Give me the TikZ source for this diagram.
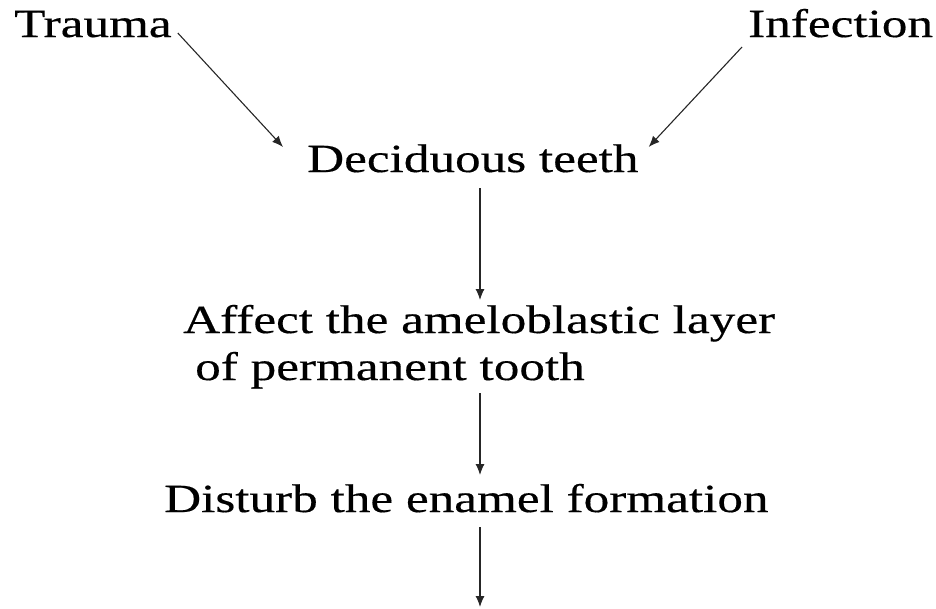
\documentclass[tikz,border=0pt]{standalone}
\usepackage{fontspec}
\setmainfont[FakeStretch=1.28,FakeBold=0.4]{Liberation Serif}
\usetikzlibrary{arrows.meta}
\begin{document}
\begin{tikzpicture}[x=1pt,y=1pt,
  lbl/.style={inner sep=0pt,anchor=base west,font=\fontsize{40}{47}\selectfont},
  arr/.style={-{Latex[length=11pt,width=9pt]},line width=1.1pt,black!85}]
\useasboundingbox (0,0) rectangle (936,-608);
\node[lbl] (trauma) at (14,-37) {Trauma};
\node[lbl] (infect) at (748,-37) {Infection};
\node[lbl] (dec) at (307,-172) {Deciduous teeth};
\node[lbl,align=left] (aff) at (183,-380) {Affect the ameloblastic layer\\\hspace*{12pt}of permanent tooth};
\node[lbl] (dist) at (164,-512) {Disturb the enamel formation};
\coordinate (endpt) at (480,-607);
\draw[arr] ([shift={(6pt,4pt)}]trauma.base east) -- ([shift={(-24pt,25pt)}]dec.base west);
\draw[arr] ([shift={(-6pt,-10pt)}]infect.base west) -- ([shift={(10pt,25pt)}]dec.base east);
\draw[arr] (480,-188) -- (480,-300);
\draw[arr] (480,-393) -- (480,-475);
\draw[arr] (480,-527) -- (endpt);
\end{tikzpicture}
\end{document}
